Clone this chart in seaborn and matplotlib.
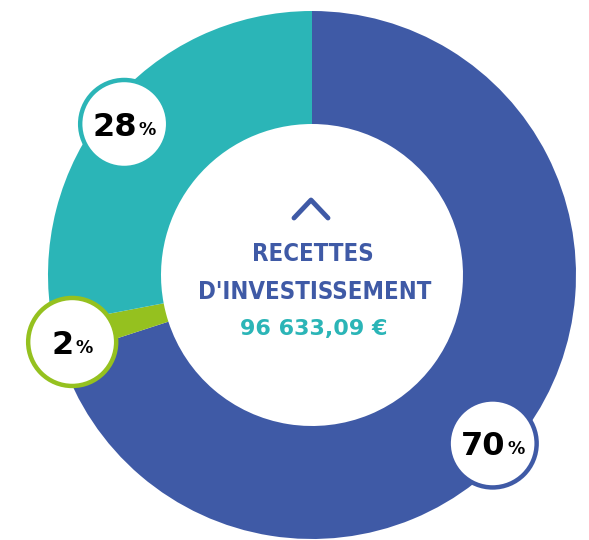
import numpy as np
import matplotlib
matplotlib.use("Agg")
import matplotlib.pyplot as plt
import seaborn as sns
from matplotlib.patches import Circle
from matplotlib import font_manager

# data
parts = ["Subventions", "Autres", "FCTVA"]
shares = [70, 2, 28]
title_lines = ["RECETTES", "D'INVESTISSEMENT"]
total_label = "96 633,09 €"

colors = ["#3f5aa6", "#95c11f", "#2bb5b7"]
label_shift = [-7, 1.2, 0.8]  # degrees, nudge for the bubble position
label_dist = [247, 249, 241]

sns.set_theme(style="white")
plt.rcParams['font.family'] = ['DejaVu Sans']

# look for a narrow bold face for the title, else fall back to Roboto
title_prop = None
for f in font_manager.fontManager.ttflist:
    nm = (f.name + " " + str(f.stretch)).lower()
    if ("narrow" in nm or "condensed" in nm) and f.weight in (600, 700, "bold", "semibold"):
        title_prop = font_manager.FontProperties(fname=f.fname)
        break
if title_prop is None:
    title_prop = font_manager.FontProperties(family="Roboto", weight="bold")

fig = plt.figure(figsize=(5.89, 5.4), dpi=100)
ax = fig.add_axes([0, 0, 1, 1])
ax.axis('off')

cx, cy = 312, 265
R, r = 264, 151

wedges, _ = ax.pie(shares, colors=colors, startangle=90, counterclock=False,
                   center=(cx, cy), radius=R,
                   wedgeprops=dict(width=R - r, linewidth=0))
ax.set_xlim(0, 589)
ax.set_ylim(0, 540)
ax.set_aspect('equal')

renderer = fig.canvas.get_renderer()

def width_px(t):
    return t.get_window_extent(renderer).width

# percentage bubbles
for w, val, col, sh, d in zip(wedges, shares, colors, label_shift, label_dist):
    ang = np.deg2rad((w.theta1 + w.theta2) / 2 + sh)
    bx = cx + d * np.cos(ang)
    by = cy + d * np.sin(ang)
    ax.add_patch(Circle((bx, by), 44, facecolor="white", edgecolor=col,
                        linewidth=3.2, zorder=5))
    num = ax.text(bx, by - 12, str(val), ha="left", va="baseline",
                  fontsize=23, fontweight="bold", color="black", zorder=6)
    pct = ax.text(bx, by - 11, "%", ha="left", va="baseline",
                  fontsize=12.5, fontweight="bold", color="black", zorder=6)
    wn, wp = width_px(num), width_px(pct)
    left = bx - (wn + 2 + wp) / 2
    num.set_x(left)
    pct.set_x(left + wn + 2)

# chevron
ax.plot([cx - 18, cx - 1, cx + 16], [cy + 57, cy + 75, cy + 57], color=colors[0],
        lw=3.5, solid_capstyle="round", solid_joinstyle="round")

t1 = ax.text(cx + 1, cy + 21, title_lines[0], ha="center", va="center", fontsize=22,
             color=colors[0], fontproperties=title_prop)
t2 = ax.text(cx + 3, cy - 17, title_lines[1], ha="center", va="center", fontsize=22,
             color=colors[0], fontproperties=title_prop)
t1.set_fontsize(22)
t2.set_fontsize(22)
scale = 232 / width_px(t2)
if scale < 1:
    t1.set_fontsize(22 * scale)
    t2.set_fontsize(22 * scale)

tot = ax.text(cx + 2, cy - 54, total_label, ha="center", va="center", fontsize=16,
              fontweight="bold", color=colors[2])

fig.savefig("out.png", dpi=100, facecolor="white")
